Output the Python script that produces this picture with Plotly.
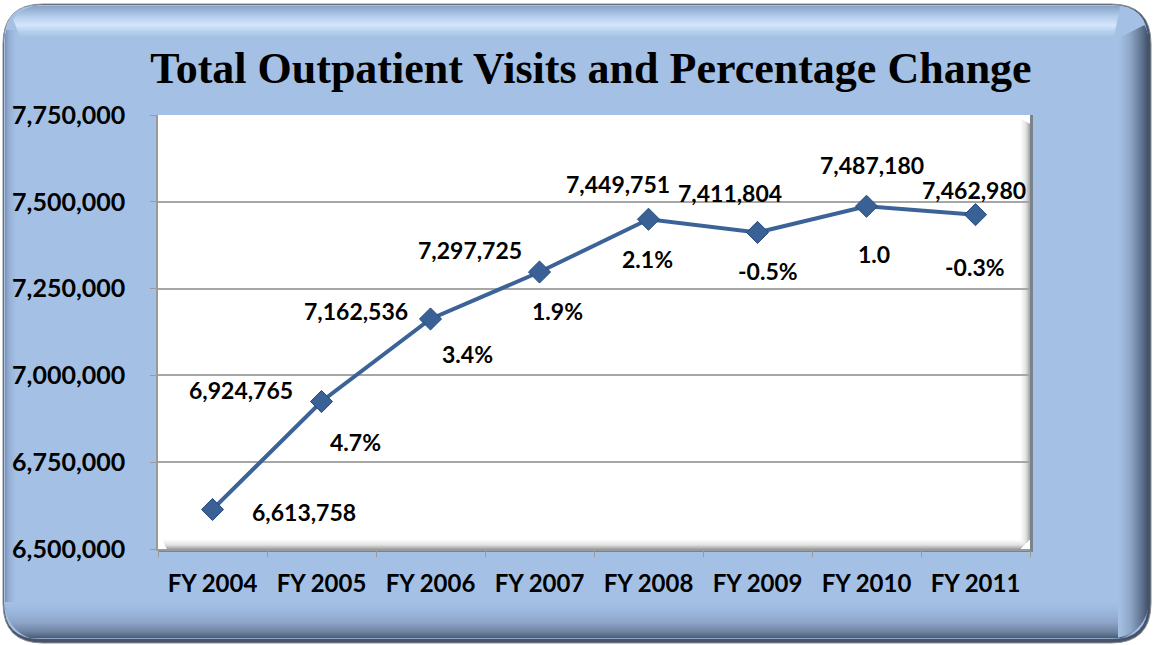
import math
import plotly.graph_objects as go

# ---- data ----
years = ["FY 2004", "FY 2005", "FY 2006", "FY 2007", "FY 2008", "FY 2009", "FY 2010", "FY 2011"]
visits = [6613758, 6924765, 7162536, 7297725, 7449751, 7411804, 7487180, 7462980]
pct_labels = ["", "4.7%", "3.4%", "1.9%", "2.1%", "-0.5%", "1.0", "-0.3%"]
y_ticks = [6500000, 6750000, 7000000, 7250000, 7500000, 7750000]

# ---- label offsets (pixels) ----
val_shift = [(91, -2), (-81, 12), (-75, 8), (-70, 22), (-31, 35), (-28, 39), (5, 41), (-2, 25)]
pct_shift = [(0, 0), (34, -40), (37, -35), (18, -39), (-1, -40), (10, -39), (7, -48), (-1, -52)]

W, H = 1153, 645
L, R, T, B = 158, 123, 115, 96
PW, PH = W - L - R, H - T - B
MAIN = "#a4c0e4"

def px(x):
    return (x - L) / PW

def py(y):
    return 1 - (y - T) / PH

def hex2rgb(h):
    h = h.lstrip("#")
    return [int(h[i:i + 2], 16) for i in (0, 2, 4)]

def grad(stops, t):
    for (p0, c0), (p1, c1) in zip(stops[:-1], stops[1:]):
        if p0 <= t <= p1:
            f = 0 if p1 == p0 else (t - p0) / (p1 - p0)
            a, b = hex2rgb(c0), hex2rgb(c1)
            return "rgb(%d,%d,%d)" % tuple(round(a[i] + (b[i] - a[i]) * f) for i in range(3))
    return stops[-1][1]

def rounded(x0, y0, x1, y1, r):
    return (f"M {px(x0 + r)} {py(y0)} L {px(x1 - r)} {py(y0)} "
            f"Q {px(x1)} {py(y0)} {px(x1)} {py(y0 + r)} "
            f"L {px(x1)} {py(y1 - r)} Q {px(x1)} {py(y1)} {px(x1 - r)} {py(y1)} "
            f"L {px(x0 + r)} {py(y1)} Q {px(x0)} {py(y1)} {px(x0)} {py(y1 - r)} "
            f"L {px(x0)} {py(y0 + r)} Q {px(x0)} {py(y0)} {px(x0 + r)} {py(y0)} Z")

# inner frame geometry (rounded rect) used to keep bevel strips inside
FX0, FY0, FX1, FY1, FR = 4, 5, 1148, 639, 36

def x_span(y):
    d = 0
    if y < FY0 + FR:
        d = FR - math.sqrt(max(0, FR ** 2 - (FY0 + FR - y) ** 2))
    elif y > FY1 - FR:
        d = FR - math.sqrt(max(0, FR ** 2 - (y - (FY1 - FR)) ** 2))
    return FX0 + d + 1, FX1 - d - 1

def y_span(x):
    d = 0
    if x < FX0 + FR:
        d = FR - math.sqrt(max(0, FR ** 2 - (FX0 + FR - x) ** 2))
    elif x > FX1 - FR:
        d = FR - math.sqrt(max(0, FR ** 2 - (x - (FX1 - FR)) ** 2))
    return FY0 + d + 1, FY1 - d - 1

shapes = []
def add_path(path, fill, line=None):
    shapes.append(dict(type="path", xref="paper", yref="paper", path=path,
                       fillcolor=fill, line=line or dict(width=0), layer="below"))

def add_rect(x0, y0, x1, y1, fill, opacity=1.0):
    shapes.append(dict(type="rect", xref="paper", yref="paper",
                       x0=px(x0), x1=px(x1), y0=py(y1), y1=py(y0),
                       fillcolor=fill, line=dict(width=0), layer="below", opacity=opacity))

def add_poly(pts, fill):
    p = "M " + " L ".join(f"{px(a)} {py(b)}" for a, b in pts) + " Z"
    shapes.append(dict(type="path", xref="paper", yref="paper", path=p,
                       fillcolor=fill, line=dict(width=0), layer="below"))

# ---- frame ----
add_path(rounded(3, 4, 1151, 643, 40), "#44546c", dict(color="#8c8c8c", width=1))
add_path(rounded(FX0, FY0, FX1, FY1, FR), MAIN)
# left bevel columns
left_stops = [(0, "#8397b5"), (0.4, "#97b2d8"), (1, MAIN)]
for k in range(12):
    x = FX0 + 1 + k
    ya, yb = y_span(x)
    add_poly([(x, max(ya, 30)), (x + 1.2, max(ya, 30)), (x + 1.2, min(yb, 610)), (x, min(yb, 610))],
             grad(left_stops, k / 11))
# top bevel rows
top_stops = [(0, "#8ba6cc"), (0.35, "#b7d0ee"), (0.6, "#d3e7fb"), (0.8, "#b9d1ef"), (1, MAIN)]
for k in range(32):
    y = FY0 + 1 + k
    xa, xb = x_span(y)
    xa = max(xa, 8 + k * 0.4)
    xb = min(xb, 1120 - k * 0.2)
    add_poly([(xa, y), (xb, y), (xb, y + 1.2), (xa, y + 1.2)], grad(top_stops, k / 31))
# bottom bevel rows
bot_stops = [(0, MAIN), (0.35, "#98b3d8"), (0.6, "#8aa2c4"), (0.85, "#6c819f"), (1, "#4d5e78")]
for k in range(36):
    y = 602 + k
    xa, xb = x_span(y)
    add_poly([(xa, y), (xb, y), (xb, y + 1.2), (xa, y + 1.2)], grad(bot_stops, k / 35))
# right bevel columns
right_stops = [(0, MAIN), (0.4, "#8fa8c9"), (0.8, "#5f7390"), (1, "#44546c")]
for k in range(30):
    x = 1118 + k
    ya, yb = y_span(x)
    ya = max(ya, 38 - k * 0.5)
    add_poly([(x, ya), (x + 1.2, ya), (x + 1.2, yb), (x, yb)], grad(right_stops, k / 29))

# ---- plot area ----
add_rect(L, T, L + PW + 3, T + PH + 3, "#7a828c")
add_rect(L, T, L + PW, T + PH, "#ffffff")
sh_stops = [(0, "#ffffff"), (0.6, "#e2e2e2"), (1, "#a9a9a9")]
for k in range(10):
    c = grad(sh_stops, k / 9)
    add_rect(L + PW - 10 + k, T + 4 + k * 0.5, L + PW - 9 + k, T + PH - k, c)
    add_rect(L + 4 + k * 0.5, T + PH - 10 + k, L + PW - k, T + PH - 9 + k, c)

fig = go.Figure()
fig.add_trace(go.Scatter(
    x=years, y=visits, mode="lines+markers",
    line=dict(color="#3b6397", width=4),
    marker=dict(symbol="diamond", size=17, color="#3a6195",
                line=dict(color="#274a7a", width=1)),
    hoverinfo="x+y", showlegend=False,
))

lab_font = dict(family="Lato, 'Open Sans', sans-serif", size=23, color="#000000")
annotations = []
for i, (yr, v) in enumerate(zip(years, visits)):
    dx, dy = val_shift[i]
    annotations.append(dict(x=yr, y=v, xref="x", yref="y", text=f"<b>{v:,}</b>",
                            showarrow=False, xshift=dx, yshift=dy, font=lab_font,
                            xanchor="center", yanchor="middle"))
    if pct_labels[i]:
        dx, dy = pct_shift[i]
        annotations.append(dict(x=yr, y=v, xref="x", yref="y", text=f"<b>{pct_labels[i]}</b>",
                                showarrow=False, xshift=dx, yshift=dy, font=lab_font,
                                xanchor="center", yanchor="middle"))

fig.update_layout(
    width=W, height=H,
    margin=dict(l=L, r=R, t=T, b=B),
    paper_bgcolor="#ffffff",
    plot_bgcolor="rgba(0,0,0,0)",
    shapes=shapes,
    annotations=annotations,
    title=dict(text="<b>Total Outpatient Visits and Percentage Change</b>",
               x=591 / W, xanchor="center", y=1 - 68 / H, yanchor="middle",
               xref="container", yref="container",
               font=dict(family="'Liberation Serif', 'DejaVu Serif', serif", size=44, color="#000000")),
    xaxis=dict(
        type="category", range=[-0.5, 7.5],
        showgrid=False, showline=True, linecolor="#9a9a9a", linewidth=1.5,
        ticks="outside", ticklen=6, tickcolor="#9a9a9a", tickson="boundaries",
        tickfont=dict(family="Lato, 'Open Sans', sans-serif", size=24, color="#000000"),
        ticklabelstandoff=12, zeroline=False,
    ),
    yaxis=dict(
        range=[6500000, 7750000], tickvals=y_ticks,
        ticktext=[f"<b>{t:,}</b>" for t in y_ticks],
        showgrid=True, gridcolor="#a6a6a6", gridwidth=1.5,
        showline=True, linecolor="#9a9a9a", linewidth=1.5,
        ticks="outside", ticklen=6, tickcolor="#9a9a9a",
        tickfont=dict(family="Lato, 'Open Sans', sans-serif", size=25, color="#000000"),
        ticklabelstandoff=20, zeroline=False,
    ),
)
fig.update_xaxes(tickvals=years, ticktext=[f"<b>{y}</b>" for y in years])

fig.write_html("out.html", config={"displayModeBar": False},
               post_script="document.body.style.margin='0';document.body.style.overflow='hidden';")
